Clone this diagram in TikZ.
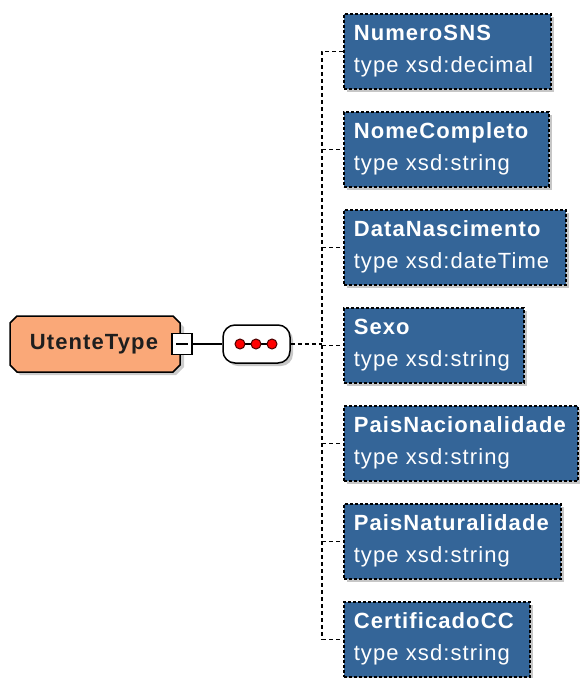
\documentclass[tikz,border=0pt]{standalone}
\usepackage{fontspec}
\setmainfont{Liberation Sans}
\newfontfamily\boxfont[LetterSpace=5]{Liberation Sans}
\usetikzlibrary{shadows}
\definecolor{elemblue}{RGB}{52,101,152}
\definecolor{typeorange}{RGB}{250,168,120}
\tikzset{
  shad/.style={drop shadow={shadow xshift=3pt,shadow yshift=-3pt,opacity=0.22,fill=black}},
  elem/.style={draw=black,dash pattern=on 3pt off 2pt,line width=1.6pt,fill=elemblue,shad,
    anchor=north west,minimum height=75pt,inner sep=0pt,text=white,align=left,
    font=\boxfont\fontsize{22}{32}\selectfont},
  conn/.style={line width=1.5pt,dash pattern=on 4pt off 3pt},
  solidconn/.style={line width=1.5pt},
}
\newcommand{\elemtext}[3]{\parbox[c][75pt][c]{#1}{\hspace*{10pt}\textbf{#2}\\\hspace*{10pt}#3}}
\begin{document}
\begin{tikzpicture}[x=1pt,y=-1pt]
\useasboundingbox (0,0) rectangle (579,678);
% type node
\fill[black,opacity=0.2] (20,319) -- (176,319) -- (184,327) -- (184,367) -- (176,375) -- (20,375) -- (13,367) -- (13,327) -- cycle;
\draw[line width=1.5pt,fill=typeorange] (17,316) -- (173,316) -- (180,323) -- (180,365) -- (173,372)
  -- (17,372) -- (10,365) -- (10,323) -- cycle;
\node[font=\boxfont\fontsize{22}{24}\selectfont\bfseries,text={rgb,255:red,30;green,30;blue,30},inner sep=0pt]
  (ut) at (94,344) {UtenteType};
\node[draw=black,line width=1.5pt,fill=white,minimum width=20pt,minimum height=21pt,inner sep=0pt] (mn) at (182,344) {};
\draw[line width=1.5pt] ([xshift=-6pt]mn.center) -- ([xshift=6pt]mn.center);
% sequence
\node[draw=black,line width=1.5pt,fill=white,rounded corners=12pt,minimum width=67pt,minimum height=38pt,inner sep=0pt,shad] (seq) at (256.5,344) {};
\draw[line width=1.5pt] (240,344) -- (272,344);
\foreach \x/\n in {240/d1,256/d2,272/d3}
  \node[circle,draw=black!70!red,fill=red,line width=1pt,minimum size=10pt,inner sep=0pt] (\n) at (\x,344) {};
\draw[solidconn] (mn.east) -- (seq.west);
% elements
\node[elem,minimum width=207pt] (b1) at (343,13) {\elemtext{207pt}{NumeroSNS}{type xsd:decimal}};
\node[elem,minimum width=205pt] (b2) at (343,111) {\elemtext{205pt}{NomeCompleto}{type xsd:string}};
\node[elem,minimum width=222pt] (b3) at (343,209) {\elemtext{222pt}{DataNascimento}{type xsd:dateTime}};
\node[elem,minimum width=180pt] (b4) at (343,307) {\elemtext{180pt}{Sexo}{type xsd:string}};
\node[elem,minimum width=234pt] (b5) at (343,405) {\elemtext{234pt}{PaisNacionalidade}{type xsd:string}};
\node[elem,minimum width=217pt] (b6) at (343,503) {\elemtext{217pt}{PaisNaturalidade}{type xsd:string}};
\node[elem,minimum width=186pt] (b7) at (343,601) {\elemtext{186pt}{CertificadoCC}{type xsd:string}};
% connectors
\coordinate (sp) at (322,344);
\draw[conn] (seq.east) -- (sp);
\draw[conn] (b1.west) -| (b7.west -| sp) -- (b7.west);
\foreach \b in {b2,b3,b4,b5,b6}
  \draw[conn] (\b.west -| sp) -- (\b.west);
\end{tikzpicture}
\end{document}
